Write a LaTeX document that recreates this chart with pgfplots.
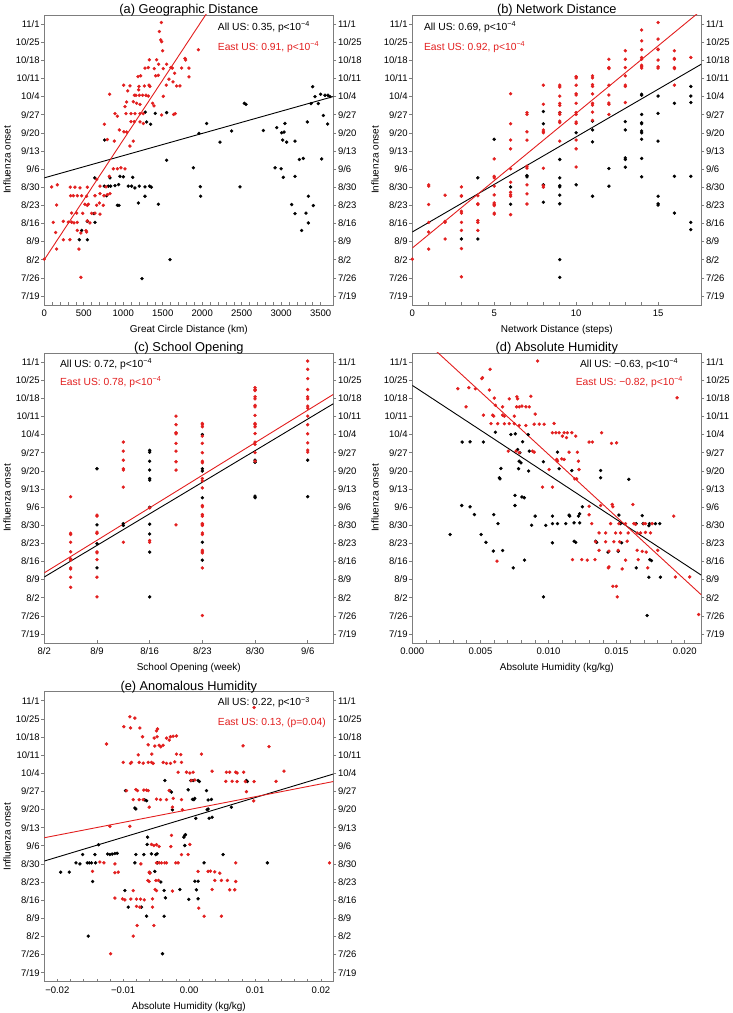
\documentclass[border=0pt]{standalone}
\usepackage{fontspec}
\setmainfont{Liberation Sans}
\usepackage{pgfplots}
\pgfplotsset{compat=1.18}
\definecolor{myred}{RGB}{226,30,30}
\definecolor{frame}{RGB}{125,125,125}
\tikzset{ann/.style={anchor=west, font=\fontsize{10.3}{12}\selectfont, inner sep=0pt}}
\pgfplotsset{
 panel/.style={
  scale only axis, width=289pt, height=290pt, anchor=south west,
  ymin=-3.5, ymax=108.5,
  ytick={0,7,...,105},
  yticklabels={7/19,7/26,8/2,8/9,8/16,8/23,8/30,9/6,9/13,9/20,9/27,10/4,10/11,10/18,10/25,11/1},
  ylabel={Influenza onset},
  axis line style={frame, line width=0.8pt},
  tick style={frame, line width=0.6pt},
  tick align=outside, major tick length=3pt, minor tick length=3pt,
  xtick style={yshift=3pt},
  xtick pos=left, ytick pos=both,
  tick label style={font=\fontsize{9.5}{11}\selectfont, inner sep=1.5pt},
  label style={font=\fontsize{10}{12}\selectfont},
  xlabel style={yshift=-4pt},
  title style={font=\fontsize{12.8}{15}\selectfont, yshift=-11pt},
  /pgf/number format/assume math mode=true,
  /pgf/number format/1000 sep={},
  scaled x ticks=false,
  clip=true,
 },
 rlab/.style={
  scale only axis, width=289pt, height=290pt, anchor=south west,
  ymin=-3.5, ymax=108.5, xmin=0, xmax=1,
  ytick={0,7,...,105},
  yticklabels={7/19,7/26,8/2,8/9,8/16,8/23,8/30,9/6,9/13,9/20,9/27,10/4,10/11,10/18,10/25,11/1},
  axis y line*=right, axis x line=none,
  tick align=outside, major tick length=3pt,
  y axis line style={draw=none}, ytick style={draw=none},
  tick label style={font=\fontsize{9.5}{11}\selectfont, inner sep=1.5pt},
 },
 dotb/.style={only marks, mark=*, mark size=1.5pt, black, mark options={draw=black,fill=black}},
 dotr/.style={only marks, mark=*, mark size=1.5pt, myred, mark options={draw=myred,fill=myred}},
 lb/.style={black, line width=0.9pt, no marks},
 lr/.style={myred, line width=0.9pt, no marks},
}
\begin{document}
\begin{tikzpicture}
\useasboundingbox (0,0) rectangle (733pt,1013pt);
% ---------------- (a)
\begin{axis}[panel, at={(44.3pt,708pt)}, title={(a) Geographic Distance},
  xmin=0, xmax=3660, xtick={0,500,...,3500}, minor x tick num=4, xlabel={Great Circle Distance (km)}]
\addplot[dotb] coordinates {(1279,71.0)(1406,70.5)(1549,70.8)(1296,67.2)(1347,66.3)(764,60.2)(2056,66.6)(1959,62.8)(2373,63.7)(2225,59.4)(2533,74.4)(2554,74.0)(1549,52.4)(1887,49.5)(832,45.6)(638,45.6)(840,42.4)(895,42.6)(958,46.2)(941,43.0)(1001,46.0)(1064,42.4)(1106,42.4)(1119,45.8)(1148,41.7)(1203,42.4)(1275,42.1)(1334,42.4)(1355,42.0)(790,38.7)(946,35.0)(925,35.0)(1191,35.9)(1444,35.4)(1275,38.5)(545,28.8)(642,28.4)(473,25.3)(443,21.7)(545,21.7)(1976,42.2)(1980,38.5)(2478,42.1)(1592,14.0)(1237,6.7)(629,31.8)(811,42.4)(760,42.4)(3399,80.8)(3428,77.0)(3378,74.3)(3500,77.9)(3555,77.5)(3593,77.5)(3618,77.0)(3470,74.3)(3513,52.9)(3534,69.7)(3589,66.4)(3331,67.2)(2943,65.0)(3036,63.3)(3006,63.0)(2774,63.9)(3019,60.2)(3175,59.8)(3069,59.4)(2922,49.5)(2999,49.1)(3027,45.8)(3175,46.2)(3230,52.7)(3280,53.1)(3048,66.6)(3133,35.3)(3344,38.5)(3407,34.9)(3175,31.8)(3314,32.0)(3344,28.2)(3259,25.3)};
\addplot[dotr] coordinates {(1482,105.6)(1457,102.1)(1474,98.9)(1486,98.2)(1499,94.7)(1951,95.1)(1423,91.2)(1330,91.2)(1782,91.7)(1790,91.1)(1549,89.5)(1448,89.5)(1317,88.2)(1393,87.8)(1275,88.0)(1507,87.8)(1604,88.2)(1621,88.0)(1739,88.0)(1832,88.0)(1651,86.0)(1444,85.2)(1186,84.7)(1220,85.0)(1410,85.0)(1832,84.6)(1579,83.7)(1005,81.4)(1085,81.1)(1199,80.9)(1267,81.1)(1326,81.4)(1338,80.9)(1545,81.4)(1676,81.1)(1718,81.1)(1630,82.7)(1056,79.2)(1195,79.6)(1140,77.5)(1161,77.5)(1203,77.5)(1245,77.5)(1288,77.5)(1317,77.2)(828,77.9)(1507,77.1)(1043,74.9)(1127,75.0)(1169,74.4)(1212,74.0)(1372,74.4)(1389,73.4)(1022,73.1)(895,70.4)(1034,70.4)(1098,70.4)(1148,70.4)(1212,70.4)(1254,70.4)(925,69.4)(1486,69.9)(1638,70.1)(1659,70.4)(760,66.3)(1098,67.3)(1140,67.3)(1212,67.2)(1254,66.6)(950,64.1)(1009,63.4)(1043,63.3)(798,60.4)(887,59.8)(1127,59.8)(1085,57.9)(823,46.2)(874,49.1)(925,49.1)(971,49.5)(1022,49.1)(93,42.1)(165,42.9)(663,45.0)(705,42.4)(781,42.1)(545,42.0)(452,41.7)(329,42.0)(388,42.0)(334,38.7)(367,38.7)(418,38.7)(473,38.7)(536,38.5)(642,38.7)(705,39.5)(756,38.7)(798,39.1)(832,39.5)(156,35.1)(515,35.4)(557,35.4)(545,35.0)(697,35.9)(663,35.0)(747,35.0)(346,32.0)(410,32.0)(486,31.9)(600,31.9)(642,32.0)(705,31.6)(545,29.0)(114,28.4)(241,28.8)(304,28.5)(346,28.5)(376,28.2)(418,28.4)(578,28.2)(418,25.3)(528,25.2)(536,24.7)(144,24.5)(241,21.7)(325,21.7)(156,18.1)(439,18.1)(0,14.2)(464,7.2)(464,24.3)};
\addplot[lb] coordinates {(0,45.6)(3660,77.0)};
\addplot[lr] coordinates {(0,14.0)(2200,115.8)};
\node[ann] at (rel axis cs:0.60,0.959) {All US: 0.35, p<10\textsuperscript{−4}};
\node[ann, text=myred] at (rel axis cs:0.60,0.89) {East US: 0.91, p<10\textsuperscript{−4}};
\end{axis}
\begin{axis}[rlab, at={(44.3pt,708pt)}]\end{axis}
% ---------------- (b)
\begin{axis}[panel, at={(412.3pt,708pt)}, title={(b) Network Distance},
  xmin=0, xmax=17.64, xtick={0,5,10,15}, minor x tick num=4, xlabel={Network Distance (steps)}]
\addplot[dotb] coordinates {(3,22.0)(4,45.6)(4,22.0)(5,60.5)(6,42.1)(6,35.4)(7,46.5)(7,46.0)(8,71.2)(8,66.5)(8,42.9)(8,36.2)(9,70.8)(9,52.7)(9,45.6)(9,42.6)(9,42.1)(9,38.9)(9,35.6)(9,14.0)(9,7.2)(10,63.0)(10,42.9)(11,67.5)(11,64.1)(11,59.5)(11,38.5)(12,49.2)(12,42.4)(13,67.3)(13,64.1)(13,53.3)(13,52.7)(13,49.7)(14,77.9)(14,77.5)(14,70.1)(14,66.9)(14,66.5)(14,63.7)(14,63.0)(14,60.5)(14,53.1)(14,46.0)(15,77.2)(15,70.5)(15,59.8)(15,38.5)(15,35.6)(15,35.1)(16,74.4)(16,46.2)(16,32.0)(17,80.9)(17,77.2)(17,74.7)(17,46.2)(17,28.4)(17,25.6)};
\addplot[dotr] coordinates {(0,14.2)(1,42.9)(1,42.4)(1,35.3)(1,28.4)(1,24.7)(1,18.1)(2,38.9)(2,28.8)(2,28.4)(2,22.0)(3,42.1)(3,38.7)(3,38.5)(3,32.7)(3,32.0)(3,28.4)(3,25.3)(3,18.3)(3,7.4)(4,38.7)(4,35.6)(4,35.3)(4,29.1)(4,28.4)(4,25.3)(5,52.9)(5,46.2)(5,45.6)(5,42.4)(5,39.0)(5,35.9)(5,35.4)(5,34.9)(5,32.0)(5,31.6)(6,78.1)(6,66.5)(6,60.2)(6,56.8)(6,49.1)(6,43.9)(6,40.0)(6,39.1)(6,38.5)(6,31.4)(7,70.8)(7,70.1)(7,63.4)(7,60.2)(7,50.1)(7,49.4)(7,42.9)(7,39.4)(7,35.5)(8,81.4)(8,74.0)(8,64.1)(8,63.4)(8,63.0)(8,49.3)(8,42.6)(8,42.0)(9,81.4)(9,80.7)(9,77.2)(9,74.4)(9,73.6)(9,70.8)(9,70.1)(9,67.5)(9,66.9)(9,59.8)(10,84.7)(10,84.2)(10,81.4)(10,78.1)(10,77.6)(10,74.4)(10,70.8)(10,70.1)(10,67.2)(10,66.6)(10,60.2)(10,56.8)(10,49.8)(11,85.0)(11,84.2)(11,81.6)(11,80.9)(11,78.0)(11,74.4)(11,73.7)(11,71.0)(11,67.8)(12,91.4)(12,88.2)(12,87.8)(12,81.4)(12,77.6)(12,74.5)(12,74.0)(12,70.1)(13,94.7)(13,91.4)(13,88.2)(13,85.0)(13,81.4)(13,80.9)(13,74.7)(14,102.7)(14,98.5)(14,95.1)(14,92.1)(14,91.4)(14,89.1)(14,88.6)(14,88.0)(15,105.6)(15,99.2)(15,95.3)(15,95.1)(15,91.1)(15,88.5)(15,88.0)(16,94.7)(16,91.7)(16,91.4)(16,88.2)(16,87.8)(16,81.4)(17,92.1)};
\addplot[lb] coordinates {(0,24.7)(17.64,89.5)};
\addplot[lr] coordinates {(0,18.5)(17.64,110.3)};
\node[ann] at (rel axis cs:0.04,0.959) {All US: 0.69, p<10\textsuperscript{−4}};
\node[ann, text=myred] at (rel axis cs:0.04,0.89) {East US: 0.92, p<10\textsuperscript{−4}};
\end{axis}
\begin{axis}[rlab, at={(412.3pt,708pt)}]\end{axis}
% ---------------- (c)
\begin{axis}[panel, at={(44.3pt,370pt)}, title={(c) School Opening},
  xmin=14, xmax=52.4, xtick={14,21,28,35,42,49}, xticklabels={8/2,8/9,8/16,8/23,8/30,9/6},
  xlabel={School Opening (week)}]
\addplot[dotb] coordinates {(21,63.8)(21,42.1)(21,34.9)(21,25.5)(24.5,42.6)(24.5,41.9)(28,70.9)(28,70.2)(28,66.7)(28,63.3)(28,60.0)(28,59.4)(28,48.9)(28,42.4)(28,38.6)(28,31.6)(28,14.3)(35,77.0)(35,63.8)(35,62.9)(35,52.6)(35,28.5)(35,35.4)(42,67.1)(42,66.3)(42,53.2)(42,52.6)(49,67.1)(49,53.0)};
\addplot[dotr] coordinates {(17.5,53.0)(17.5,38.9)(17.5,38.4)(17.5,35.4)(17.5,31.7)(17.5,29.0)(17.5,28.5)(17.5,25.5)(17.5,25.1)(17.5,21.9)(17.5,18.0)(21,45.9)(21,45.5)(21,39.3)(21,38.8)(21,31.7)(21,31.3)(21,28.7)(21,21.9)(21,14.3)(24.5,74.1)(24.5,70.6)(24.5,67.1)(24.5,63.8)(24.5,63.3)(24.5,56.7)(24.5,35.4)(28,48.7)(28,36.1)(28,35.4)(31.5,84.1)(31.5,80.8)(31.5,77.7)(31.5,77.3)(31.5,73.6)(31.5,70.6)(31.5,66.5)(31.5,63.3)(31.5,42.1)(35,81.3)(35,80.8)(35,80.0)(35,76.4)(35,73.6)(35,70.0)(35,66.7)(35,66.1)(35,60.0)(35,59.1)(35,56.4)(35,49.6)(35,49.1)(35,46.1)(35,45.5)(35,42.6)(35,42.3)(35,41.9)(35,39.0)(35,38.4)(35,32.3)(35,31.7)(35,31.3)(35,25.5)(35,7.1)(42,95.1)(42,94.4)(42,94.0)(42,91.6)(42,90.8)(42,88.3)(42,87.7)(42,84.4)(42,81.3)(42,80.8)(42,80.0)(42,77.4)(42,74.1)(42,73.2)(42,70.0)(42,66.7)(49,105.4)(49,102.2)(49,98.6)(49,94.4)(49,91.6)(49,90.8)(49,88.0)(49,87.2)(49,84.1)(49,80.8)(49,77.3)(49,73.8)(49,71.0)(49,70.2)};
\addplot[lb] coordinates {(14,22.0)(52.4,88.9)};
\addplot[lr] coordinates {(14,23.6)(52.4,92.5)};
\node[ann] at (rel axis cs:0.054,0.962) {All US: 0.72, p<10\textsuperscript{−4}};
\node[ann, text=myred] at (rel axis cs:0.054,0.90) {East US: 0.78, p<10\textsuperscript{−4}};
\end{axis}
\begin{axis}[rlab, at={(44.3pt,370pt)}]\end{axis}
% ---------------- (d)
\begin{axis}[panel, at={(412.3pt,370pt)}, title={(d) Absolute Humidity},
  xmin=0, xmax=21.22e-3, xtick={0,5e-3,10e-3,15e-3,20e-3}, xticklabels={0.000,0.005,0.010,0.015,0.020},
  minor x tick num=4, xlabel={Absolute Humidity (kg/kg)}]
\addplot[dotb] coordinates {(3.63e-3,49.6)(2.78e-3,38.4)(3.66e-3,74.1)(4.24e-3,74.2)(5.22e-3,74.1)(6.10e-3,77.9)(7.24e-3,77.0)(7.56e-3,77.3)(8.51e-3,77.0)(8.10e-3,74.2)(8.59e-3,70.6)(7.90e-3,70.0)(7.73e-3,71.2)(7.85e-3,66.7)(7.98e-3,66.1)(9.63e-3,66.5)(6.51e-3,63.9)(6.39e-3,60.3)(6.44e-3,59.9)(7.80e-3,63.8)(8.54e-3,62.9)(10.66e-3,70.2)(10.78e-3,63.8)(11.71e-3,63.1)(13.83e-3,63.1)(13.83e-3,60.3)(15.90e-3,59.7)(7.54e-3,53.5)(7.54e-3,49.6)(8.05e-3,52.9)(8.22e-3,52.6)(4.24e-3,49.1)(4.56e-3,46.1)(5.98e-3,46.1)(6.29e-3,42.6)(5.05e-3,38.4)(5.41e-3,35.4)(5.95e-3,32.0)(6.63e-3,32.2)(7.41e-3,25.5)(8.24e-3,28.5)(8.76e-3,42.0)(9.02e-3,45.5)(9.80e-3,41.9)(10.29e-3,45.5)(10.29e-3,42.6)(10.66e-3,42.6)(11.27e-3,42.6)(11.51e-3,45.9)(11.56e-3,45.5)(11.88e-3,42.9)(12.2e-3,45.5)(12.29e-3,46.4)(12.29e-3,42.9)(10.29e-3,35.2)(11.88e-3,35.8)(12.0e-3,35.4)(12.49e-3,49.1)(13.46e-3,35.8)(13.54e-3,35.4)(14.37e-3,31.6)(15.12e-3,31.9)(15.17e-3,45.9)(15.29e-3,42.6)(15.37e-3,35.2)(16.44e-3,42.6)(16.88e-3,45.7)(16.95e-3,42.6)(17.37e-3,41.8)(17.41e-3,42.6)(17.85e-3,42.6)(18.17e-3,42.6)(16.44e-3,25.5)(17.44e-3,28.7)(17.56e-3,28.3)(17.37e-3,21.9)(18.22e-3,21.9)(17.24e-3,7.1)(9.63e-3,14.3)};
\addplot[dotr] coordinates {(9.20e-3,105.4)(5.71e-3,102.2)(5.10e-3,98.6)(5.15e-3,99.0)(5.66e-3,94.2)(3.34e-3,94.7)(4.15e-3,95.1)(4.63e-3,94.7)(6.02e-3,91.1)(7.73e-3,90.8)(7.68e-3,91.6)(7.12e-3,90.8)(8.71e-3,91.8)(3.95e-3,87.7)(6.10e-3,88.3)(6.63e-3,87.7)(7.66e-3,87.7)(7.85e-3,87.7)(8.05e-3,88.0)(8.34e-3,87.7)(8.59e-3,87.7)(19.44e-3,91.2)(5.22e-3,84.5)(5.90e-3,84.5)(5.98e-3,84.1)(6.63e-3,84.5)(6.76e-3,84.1)(7.49e-3,84.1)(9.02e-3,84.9)(5.78e-3,81.2)(6.27e-3,81.2)(6.76e-3,81.2)(7.12e-3,81.2)(7.49e-3,81.2)(7.85e-3,80.5)(8.34e-3,80.5)(8.95e-3,81.0)(9.32e-3,81.0)(9.68e-3,81.0)(10.41e-3,81.3)(10.29e-3,77.7)(10.54e-3,77.7)(10.78e-3,77.7)(11.15e-3,77.7)(11.39e-3,77.7)(11.71e-3,77.7)(11.02e-3,76.4)(11.32e-3,75.8)(12.0e-3,76.4)(12.98e-3,74.1)(13.22e-3,74.1)(13.90e-3,77.7)(14.63e-3,73.6)(15.0e-3,73.8)(7.05e-3,70.6)(7.61e-3,70.6)(7.85e-3,70.0)(8.83e-3,70.6)(8.95e-3,70.2)(10.61e-3,67.4)(10.66e-3,66.7)(10.98e-3,67.6)(11.15e-3,67.4)(11.51e-3,70.2)(12.12e-3,70.2)(12.2e-3,66.7)(10.05e-3,63.5)(12.24e-3,63.5)(11.93e-3,59.9)(12.07e-3,59.9)(9.56e-3,56.7)(10.29e-3,56.7)(13.83e-3,49.6)(14.68e-3,50.0)(14.73e-3,49.1)(16.20e-3,50.0)(19.2e-3,45.5)(12.98e-3,46.0)(12.98e-3,49.3)(13.17e-3,42.6)(14.56e-3,42.6)(15.17e-3,42.6)(15.66e-3,42.6)(16.27e-3,42.6)(16.39e-3,42.3)(17.0e-3,42.6)(17.12e-3,42.6)(17.61e-3,42.6)(14.93e-3,39.0)(15.29e-3,39.0)(15.85e-3,39.0)(13.71e-3,39.0)(14.20e-3,39.0)(16.51e-3,39.0)(16.76e-3,39.0)(17.12e-3,39.2)(17.49e-3,39.0)(13.46e-3,35.6)(14.20e-3,35.6)(14.80e-3,35.6)(15.22e-3,35.6)(15.78e-3,35.8)(13.71e-3,32.3)(14.44e-3,32.0)(15.12e-3,32.3)(16.51e-3,32.3)(16.88e-3,31.9)(17.17e-3,31.6)(18.02e-3,32.3)(11.76e-3,28.7)(12.44e-3,28.7)(12.85e-3,28.5)(13.41e-3,28.7)(14.44e-3,25.9)(15.66e-3,28.5)(16.59e-3,28.7)(14.39e-3,25.5)(15.41e-3,25.1)(17.29e-3,25.5)(19.32e-3,22.0)(20.37e-3,22.0)(14.73e-3,18.4)(14.98e-3,18.4)(15.05e-3,14.3)(21.02e-3,7.5)(6.22e-3,28.1)};
\addplot[lb] coordinates {(0,96.0)(21.22e-3,22.7)};
\addplot[lr] coordinates {(0,117.7)(21.22e-3,15.1)};
\node[ann] at (rel axis cs:0.58,0.962) {All US: −0.63, p<10\textsuperscript{−4}};
\node[ann, text=myred] at (rel axis cs:0.565,0.90) {East US: −0.82, p<10\textsuperscript{−4}};
\end{axis}
\begin{axis}[rlab, at={(412.3pt,370pt)}]\end{axis}
% ---------------- (e)
\begin{axis}[panel, at={(44.3pt,31.3pt)}, title={(e) Anomalous Humidity},
  xmin=-21.97e-3, xmax=21.87e-3, xtick={-20e-3,-10e-3,0,10e-3,20e-3}, xticklabels={−0.02,−0.01,0.00,0.01,0.02},
  minor x tick num=4, xlabel={Absolute Humidity (kg/kg)}]
\addplot[dotb] coordinates {(-19.49e-3,38.8)(-18.18e-3,38.8)(-17.17e-3,42.4)(-16.57e-3,42.0)(-16.16e-3,45.6)(-15.45e-3,42.4)(-15.15e-3,42.4)(-14.80e-3,42.4)(-14.29e-3,45.6)(-14.19e-3,42.4)(-13.74e-3,49.4)(-14.65e-3,35.2)(-15.30e-3,14.1)(-12.37e-3,45.8)(-12.02e-3,45.6)(-11.67e-3,45.8)(-11.26e-3,46.0)(-10.91e-3,46.1)(-9.75e-3,31.7)(-9.24e-3,25.3)(-9.65e-3,70.3)(-8.23e-3,63.6)(-8.08e-3,63.2)(-8.08e-3,45.6)(-8.23e-3,42.4)(-6.87e-3,45.6)(-7.22e-3,25.3)(-6.72e-3,66.7)(-6.46e-3,66.4)(-6.36e-3,49.5)(-6.31e-3,52.3)(-6.46e-3,21.8)(-5.71e-3,45.9)(-5.96e-3,38.6)(-5.20e-3,39.1)(-5.05e-3,45.6)(-4.85e-3,45.9)(-4.80e-3,42.4)(-4.29e-3,35.0)(-3.69e-3,74.2)(-3.79e-3,31.7)(-3.59e-3,28.9)(-3.79e-3,21.8)(-4.04e-3,7.3)(-2.93e-3,70.3)(-2.68e-3,69.7)(-2.53e-3,62.9)(-1.41e-3,32.1)(-0.66e-3,53.0)(-0.56e-3,53.3)(-0.81e-3,52.3)(-0.66e-3,49.1)(-0.15e-3,70.6)(0.25e-3,74.2)(0.61e-3,74.2)(0.51e-3,66.9)(0.71e-3,66.8)(0.86e-3,67.3)(1.01e-3,59.6)(-0.05e-3,28.3)(0.86e-3,35.3)(1.36e-3,35.3)(1.11e-3,32.0)(1.36e-3,28.5)(1.36e-3,74.2)(1.56e-3,73.8)(2.27e-3,42.4)(2.63e-3,70.3)(2.88e-3,66.7)(2.73e-3,62.9)(2.88e-3,63.2)(3.03e-3,59.6)(3.38e-3,66.9)(3.48e-3,60.0)(5.15e-3,45.6)(6.41e-3,63.9)(8.69e-3,74.2)(8.84e-3,73.8)(11.87e-3,42.4)};
\addplot[dotr] coordinates {(9.85e-3,102.4)(-8.99e-3,98.8)(-8.23e-3,98.3)(-9.90e-3,95.0)(-8.89e-3,94.5)(-7.47e-3,94.5)(-4.80e-3,94.1)(-4.95e-3,93.4)(-12.53e-3,88.3)(-7.07e-3,91.1)(-6.21e-3,88.0)(-5.20e-3,87.5)(-4.55e-3,87.8)(-4.29e-3,87.2)(-3.94e-3,87.8)(-5.30e-3,90.6)(-4.85e-3,91.1)(-3.43e-3,90.6)(-3.03e-3,89.8)(-2.83e-3,91.1)(-2.42e-3,91.3)(-1.92e-3,91.4)(-1.26e-3,84.2)(-7.73e-3,84.1)(-5.66e-3,84.4)(-1.92e-3,84.4)(1.87e-3,84.4)(-10.0e-3,81.2)(-8.89e-3,80.8)(-8.74e-3,81.2)(-7.58e-3,81.2)(-6.97e-3,80.9)(-6.21e-3,81.2)(-5.71e-3,81.2)(-5.45e-3,80.8)(-3.94e-3,81.2)(-3.43e-3,80.8)(-2.83e-3,80.8)(-2.17e-3,81.4)(-1.16e-3,81.2)(8.18e-3,87.6)(12.12e-3,87.3)(14.39e-3,77.8)(13.18e-3,73.9)(3.48e-3,77.8)(5.66e-3,77.4)(6.16e-3,77.4)(7.07e-3,77.4)(7.27e-3,77.1)(8.28e-3,77.4)(9.85e-3,73.8)(9.80e-3,66.3)(8.69e-3,69.9)(-1.67e-3,77.4)(-0.40e-3,77.4)(0.10e-3,77.1)(0.61e-3,77.4)(0.35e-3,74.2)(0.86e-3,74.4)(5.56e-3,73.9)(6.52e-3,73.9)(7.27e-3,73.8)(8.54e-3,73.8)(-9.49e-3,70.3)(-8.08e-3,70.7)(-7.83e-3,70.3)(-6.87e-3,70.5)(-6.46e-3,70.5)(-6.21e-3,70.3)(-8.48e-3,66.8)(-7.58e-3,66.8)(-6.97e-3,66.8)(-6.06e-3,63.9)(-4.95e-3,67.0)(-4.34e-3,66.8)(-3.43e-3,66.8)(-2.42e-3,67.3)(-2.53e-3,63.9)(-3.03e-3,70.3)(-1.16e-3,66.8)(-1.01e-3,62.9)(-8.99e-3,56.5)(-12.02e-3,56.5)(-2.68e-3,53.0)(-2.78e-3,48.7)(-4.95e-3,49.4)(-4.55e-3,48.7)(-5.71e-3,49.5)(-5.35e-3,49.1)(0.10e-3,49.5)(-1.16e-3,45.6)(-0.15e-3,45.6)(-2.02e-3,42.4)(-1.67e-3,42.4)(-4.95e-3,42.4)(-4.55e-3,42.4)(-4.19e-3,42.4)(-3.69e-3,42.4)(-3.43e-3,42.4)(-7.32e-3,42.0)(-11.26e-3,42.0)(-12.93e-3,42.4)(-13.54e-3,42.7)(-14.65e-3,39.1)(-10.76e-3,38.8)(-11.26e-3,38.6)(-6.06e-3,38.8)(-5.96e-3,38.4)(-5.05e-3,35.6)(-4.65e-3,35.6)(-6.06e-3,35.2)(-6.26e-3,35.6)(-5.15e-3,32.1)(-4.95e-3,31.7)(-2.53e-3,31.5)(-8.48e-3,31.7)(-11.26e-3,28.8)(-10.1e-3,28.5)(-9.75e-3,28.1)(-8.84e-3,28.4)(-7.98e-3,28.4)(-7.37e-3,28.4)(-6.82e-3,28.1)(-5.56e-3,28.5)(-7.98e-3,25.6)(-7.47e-3,25.3)(-5.56e-3,25.3)(-7.88e-3,18.2)(-5.35e-3,18.2)(-8.48e-3,14.1)(-11.92e-3,7.3)(1.46e-3,24.9)(2.27e-3,21.8)(1.36e-3,39.1)(2.88e-3,39.1)(3.23e-3,39.2)(3.89e-3,38.9)(4.65e-3,38.4)(5.81e-3,35.6)(7.07e-3,35.2)(6.92e-3,32.0)(6.16e-3,32.0)(3.89e-3,35.6)(4.90e-3,35.6)(3.48e-3,32.1)(4.90e-3,21.8)(7.07e-3,42.4)(21.3e-3,42.4)};
\addplot[lb] coordinates {(-21.97e-3,43.1)(21.87e-3,76.7)};
\addplot[lr] coordinates {(-21.97e-3,52.1)(21.87e-3,73.8)};
\node[ann] at (rel axis cs:0.60,0.962) {All US: 0.22, p<10\textsuperscript{−3}};
\node[ann, text=myred] at (rel axis cs:0.60,0.893) {East US: 0.13, (p=0.04)};
\end{axis}
\begin{axis}[rlab, at={(44.3pt,31.3pt)}]\end{axis}
\end{tikzpicture}
\end{document}
